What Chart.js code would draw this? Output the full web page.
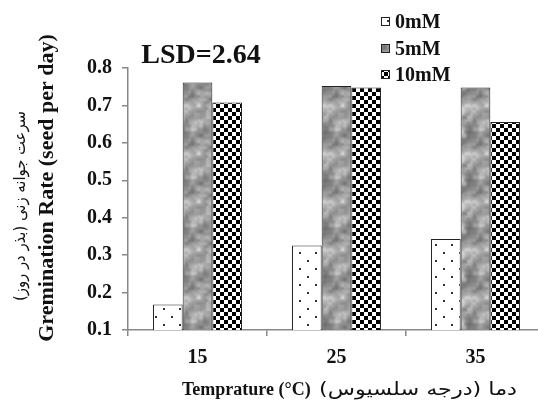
<!DOCTYPE html>
<html>
<head>
<meta charset="utf-8">
<script src="https://cdn.jsdelivr.net/npm/chart.js@4.4.1/dist/chart.umd.min.js"></script>
<style>
  html, body { margin: 0; padding: 0; background: #fff; overflow: hidden; }
  #wrap { width: 545px; height: 401px; }
</style>
</head>
<body>
<div id="wrap"><canvas id="rateChart"></canvas></div>
<script>
// temperatures and germination rates per salt level
const temps = ['15', '25', '35'];
const rate0mM = [0.168, 0.326, 0.343];
const rate5mM = [0.761, 0.752, 0.748];
const rate10mM = [0.708, 0.748, 0.656];
const seriesNames = ['0mM', '5mM', '10mM'];
const lsdText = 'LSD=2.64';

const SERIF = "'Liberation Serif', 'Times New Roman', serif";

// fill patterns for the three bars
function dotPattern() {
  const c = document.createElement('canvas');
  c.width = 16; c.height = 16;
  const g = c.getContext('2d');
  g.fillStyle = '#fff';
  g.fillRect(0, 0, 16, 16);
  g.fillStyle = '#333';
  g.fillRect(3, 4, 2, 2);
  g.fillRect(11, 12, 2, 2);
  return g.createPattern(c, 'repeat');
}

// smooth tileable value noise for the grey marble fill
function hash(x, y) {
  let h = (x * 374761393 + y * 668265263) | 0;
  h = (h ^ (h >>> 13)) * 1274126177 | 0;
  return ((h ^ (h >>> 16)) >>> 0) / 4294967295;
}

function noise(x, y, cell, period) {
  const gx = x / cell, gy = y / cell;
  const x0 = Math.floor(gx), y0 = Math.floor(gy);
  const fx = gx - x0, fy = gy - y0;
  const sx = fx * fx * (3 - 2 * fx), sy = fy * fy * (3 - 2 * fy);
  const p = period / cell;
  const v = (i, j) => hash(((i % p) + p) % p, ((j % p) + p) % p);
  const a = v(x0, y0) + (v(x0 + 1, y0) - v(x0, y0)) * sx;
  const b = v(x0, y0 + 1) + (v(x0 + 1, y0 + 1) - v(x0, y0 + 1)) * sx;
  return a + (b - a) * sy;
}

function marblePattern() {
  const n = 48;
  const c = document.createElement('canvas');
  c.width = n; c.height = n;
  const g = c.getContext('2d');
  const img = g.createImageData(n, n);
  for (let y = 0; y < n; y++) {
    for (let x = 0; x < n; x++) {
      const t = noise(x, y, 12, n) * 0.5 + noise(x + 5, y + 9, 6, n) * 0.32 + noise(x, y, 3, n) * 0.18;
      const v = 80 + Math.pow(t, 1.1) * 175;
      const i = (y * n + x) * 4;
      img.data[i] = img.data[i + 1] = img.data[i + 2] = Math.round(Math.min(240, v));
      img.data[i + 3] = 255;
    }
  }
  g.putImageData(img, 0, 0);
  return g.createPattern(c, 'repeat');
}

function checkerPattern() {
  const c = document.createElement('canvas');
  c.width = 8; c.height = 8;
  const g = c.getContext('2d');
  g.fillStyle = '#fff';
  g.fillRect(0, 0, 8, 8);
  g.fillStyle = '#000';
  g.fillRect(0, 0, 4, 4);
  g.fillRect(4, 4, 4, 4);
  return g.createPattern(c, 'repeat');
}

const fills = [dotPattern(), marblePattern(), checkerPattern()];

// draw text squeezed or stretched to a given width
function fitText(ctx, text, x, y, width) {
  const w = ctx.measureText(text).width;
  ctx.save();
  ctx.translate(x, y);
  ctx.scale(width / w, 1);
  ctx.fillText(text, 0, 0);
  ctx.restore();
}

// titles, LSD note and stacked legend
const extras = {
  id: 'extras',
  afterDraw(chart) {
    const ctx = chart.ctx;
    ctx.save();
    ctx.fillStyle = '#111';

    ctx.font = 'bold 28px ' + SERIF;
    ctx.textAlign = 'center';
    ctx.textBaseline = 'alphabetic';
    ctx.fillText(lsdText, 201, 63);

    // legend
    ctx.font = 'bold 20px ' + SERIF;
    ctx.textAlign = 'left';
    ctx.textBaseline = 'middle';
    const rows = [22, 49, 75];
    chart.data.datasets.forEach((ds, i) => {
      const y = rows[i];
      ctx.fillStyle = ds.backgroundColor;
      ctx.fillRect(381, y - 5, 9, 9);
      ctx.strokeStyle = '#222';
      ctx.lineWidth = 1;
      ctx.strokeRect(381.5, y - 4.5, 8, 8);
      ctx.fillStyle = '#111';
      ctx.fillText(ds.label, 395, y + 1);
    });

    // x title
    ctx.textBaseline = 'alphabetic';
    ctx.font = 'bold 18px ' + SERIF;
    ctx.fillText('Temprature (°C)', 182, 395);
    ctx.font = '18px "DejaVu Sans"';
    ctx.direction = 'rtl';
    ctx.textAlign = 'center';
    fitText(ctx, 'دما (درجه سلسیوس)', 418, 395, 198);
    ctx.direction = 'ltr';

    // y title, two rotated lines
    ctx.save();
    ctx.translate(47, 188);
    ctx.rotate(-Math.PI / 2);
    ctx.textAlign = 'center';
    ctx.textBaseline = 'middle';
    ctx.font = 'bold 22px ' + SERIF;
    ctx.fillText('Gremination Rate (seed per day)', 0, 0);
    ctx.restore();

    ctx.save();
    ctx.translate(21, 206);
    ctx.rotate(-Math.PI / 2);
    ctx.textAlign = 'center';
    ctx.textBaseline = 'middle';
    ctx.direction = 'rtl';
    ctx.font = '16px "DejaVu Sans"';
    fitText(ctx, 'سرعت جوانه زنی (بذر در روز)', 0, 0, 190);
    ctx.restore();

    ctx.restore();
  }
};

const ctx = document.getElementById('rateChart').getContext('2d');
const rateChart = new Chart(ctx, {
  type: 'bar',
  data: {
    labels: temps,
    datasets: [rate0mM, rate5mM, rate10mM].map((d, i) => ({
      label: seriesNames[i],
      data: d,
      backgroundColor: fills[i],
      borderColor: '#222',
      borderWidth: 1,
      categoryPercentage: 0.64,
      barPercentage: 1.0
    }))
  },
  options: {
    responsive: true,
    maintainAspectRatio: false,
    animation: false,
    devicePixelRatio: 1,
    layout: { padding: { top: 68, right: 0, bottom: 0, left: 0 } },
    plugins: {
      legend: { display: false },
      tooltip: { enabled: false }
    },
    scales: {
      x: {
        grid: { drawOnChartArea: false, tickLength: 6, color: '#888', lineWidth: 1.5 },
        border: { color: '#888', width: 1.5 },
        ticks: { color: '#111', font: { family: SERIF, size: 20, weight: 'bold' }, padding: 10 },
        afterFit: s => { s.height = 71; }
      },
      y: {
        min: 0.1,
        max: 0.8,
        grid: { drawOnChartArea: false, tickLength: 6, color: '#888', lineWidth: 1.5 },
        border: { color: '#888', width: 1.5 },
        ticks: {
          stepSize: 0.1,
          color: '#111',
          font: { family: SERIF, size: 20, weight: 'bold' },
          padding: 10,
          callback: v => v.toFixed(1)
        },
        afterFit: s => { s.width = 128; }
      }
    }
  },
  plugins: [extras]
});
</script>
</body>
</html>
